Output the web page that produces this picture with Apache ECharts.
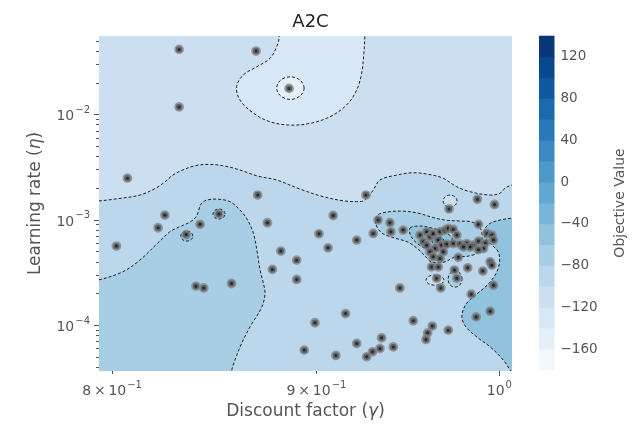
<!DOCTYPE html>
<html>
<head>
<meta charset="utf-8">
<script src="https://cdn.jsdelivr.net/npm/echarts@6.0.0/dist/echarts.min.js"></script>
<style>
html, body { margin:0; padding:0; background:#ffffff; }
#chart { width:641px; height:436px; }
</style>
</head>
<body>
<div id="chart"></div>
<script>
// ---------------- data ----------------
const chartTitle = 'A2C';
const xAxisLabel = 'Discount factor';
const xAxisSymbol = 'γ';
const yAxisLabel = 'Learning rate';
const yAxisSymbol = 'η';
const colorbarLabel = 'Objective Value';

// sampled trials
const discountFactor = [
  0.8315, 0.8692, 0.8859, 0.8315, 0.8071, 0.8700, 0.9260, 0.8247, 0.8508, 0.8215,
  0.8416, 0.8349, 0.8020, 0.8749, 0.9087, 0.9013, 0.9060, 0.8817, 0.8898, 0.8774,
  0.8898, 0.8396, 0.8434, 0.8570, 0.9211, 0.9299, 0.9325, 0.9389, 0.9394, 0.9461,
  0.9443, 0.9152, 0.8992, 0.9516, 0.9621, 0.9710, 0.9595, 0.9586, 0.9344, 0.9211,
  0.9407, 0.9335, 0.9295, 0.9264, 0.9101, 0.8937, 0.9714, 0.9874, 0.9972, 0.9880,
  0.9839, 0.9867, 0.9947, 0.9966, 0.9819, 0.9905, 0.9645, 0.9668, 0.9744, 0.9758,
  0.9766, 0.9617, 0.9654, 0.9553, 0.9571, 0.9590, 0.9608, 0.9626, 0.9664, 0.9692,
  0.9710, 0.9738, 0.9758, 0.9654, 0.9673, 0.9636, 0.9682, 0.9608, 0.9626, 0.9664,
  0.9701, 0.9738, 0.9776, 0.9814, 0.9852, 0.9880, 0.9919, 0.9928, 0.9957, 0.9966,
  0.9909, 0.9880, 0.9947, 0.9957, 0.9833, 0.9795, 0.9590
];
const learningRate = [
  0.0415, 0.0400, 0.0177, 0.0118, 0.00249, 0.00172, 0.00172, 0.00111, 0.00114, 0.000842,
  0.000907, 0.000725, 0.000564, 0.000939, 0.00110, 0.000738, 0.000543, 0.000506, 0.000415, 0.000339,
  0.000272, 0.000235, 0.000226, 0.000249, 0.000643, 0.000744, 0.000996, 0.000939, 0.000771, 0.000800,
  0.000226, 0.000129, 0.0001056, 0.0001103, 0.0000982, 0.0000899, 0.0000847, 0.0000733, 0.0000760, 0.0000672,
  0.0000623, 0.0000602, 0.0000560, 0.0000502, 0.0000517, 0.0000581, 0.00127, 0.00157, 0.00140, 0.000907,
  0.000197, 0.000120, 0.000136, 0.000240, 0.000351, 0.000327, 0.000279, 0.000226, 0.000334, 0.000279,
  0.000441, 0.000358, 0.000358, 0.000717, 0.000620, 0.000771, 0.000691, 0.000744, 0.000771, 0.000800,
  0.000831, 0.000812, 0.000717, 0.000643, 0.000576, 0.000536, 0.000498, 0.000498, 0.000446, 0.000431,
  0.000589, 0.000596, 0.000589, 0.000596, 0.000576, 0.000629, 0.000602, 0.000744, 0.000717, 0.000643,
  0.000534, 0.000522, 0.000400, 0.000372, 0.000552, 0.000552, 0.000576
];

// axes
const xRange = [0.794, 1.0073];
const yRange = [3.68e-5, 0.0556];
const xMajorTicks = [1.0];
const xMinorTicks = [0.8, 0.9];
const xTickValues = [0.8, 0.9, 1.0];
const xTickMantissa = ['8\u2009×\u200910', '9\u2009×\u200910', '10'];
const xTickExponent = ['−1', '−1', '0'];
const yTickValues = [1e-4, 1e-3, 1e-2];
const yTickMantissa = ['10', '10', '10'];
const yTickExponent = ['−4', '−3', '−2'];
const yMinorTicks = [
  4e-5, 5e-5, 6e-5, 7e-5, 8e-5, 9e-5,
  2e-4, 3e-4, 4e-4, 5e-4, 6e-4, 7e-4, 8e-4, 9e-4,
  2e-3, 3e-3, 4e-3, 5e-3, 6e-3, 7e-3, 8e-3, 9e-3,
  2e-2, 3e-2, 4e-2, 5e-2
];

// colour levels of the objective value
const objectiveLevels = [-180, -160, -140, -120, -100, -80, -60, -40, -20, 0, 20, 40, 60, 80, 100, 120, 140];
const colorbarTicks = [-160, -120, -80, -40, 0, 40, 80, 120];

// filled contour regions, vertices as [discount factor, learning rate]
const regionBase = [[0.78, 0.09], [1.02, 0.09], [1.02, 0.00002], [0.78, 0.00002]];
const regionTopLobe = [[0.8809,0.0788],[0.8809,0.0547],[0.8796,0.0440],[0.8762,0.0341],[0.8696,0.0284],[0.8628,0.0237],[0.8595,0.0183],[0.8612,0.0137],[0.8679,0.0103],[0.8762,0.00854],[0.8864,0.00794],[0.8966,0.00824],[0.9070,0.00952],[0.9157,0.0123],[0.9211,0.0171],[0.9237,0.0246],[0.9249,0.0381],[0.9254,0.0547],[0.9254,0.0788]];
const regionTopRing = [[0.8936,0.0178],[0.8915,0.0212],[0.8866,0.0228],[0.8816,0.0212],[0.8796,0.0178],[0.8816,0.0150],[0.8866,0.0139],[0.8915,0.0150]];
const regionMiddle = [[0.7875,0.00149],[0.7935,0.00151],[0.8012,0.001575],[0.8129,0.00172],[0.8204,0.00200],[0.8247,0.00229],[0.8285,0.00266],[0.8332,0.00297],[0.8396,0.00328],[0.8464,0.00336],[0.8538,0.00324],[0.8612,0.00297],[0.8702,0.00260],[0.8796,0.00239],[0.8915,0.00196],[0.9035,0.00166],[0.9148,0.00151],[0.9211,0.00149],[0.9244,0.00151],[0.9270,0.00165],[0.9299,0.00192],[0.9335,0.00239],[0.9425,0.00266],[0.9516,0.00280],[0.9608,0.00269],[0.9682,0.00248],[0.9758,0.00206],[0.9833,0.00185],[0.9947,0.00172],[1.0004,0.00179],[1.0033,0.00200],[1.0073,0.00214],[1.0148,0.00224],[1.0148,0.0000242],[0.7875,0.0000242]];
const regionUpperRing = [[0.9759,0.00151],[0.9748,0.00165],[0.9720,0.00172],[0.9692,0.00165],[0.9681,0.00151],[0.9692,0.00138],[0.9720,0.00132],[0.9748,0.00138]];
const regionLowerLeft = [[0.7875,0.000262],[0.7935,0.000268],[0.8050,0.000322],[0.8129,0.000415],[0.8208,0.000589],[0.8271,0.000771],[0.8311,0.000849],[0.8337,0.000893],[0.8367,0.000953],[0.8396,0.00106],[0.8410,0.00124],[0.8420,0.00141],[0.8448,0.00154],[0.8505,0.00157],[0.8562,0.00149],[0.8603,0.00129],[0.8645,0.00103],[0.8679,0.000744],[0.8696,0.000517],[0.8712,0.000334],[0.8729,0.000249],[0.8737,0.000201],[0.8721,0.000149],[0.8662,0.0000967],[0.8620,0.0000672],[0.8587,0.0000467],[0.8570,0.0000367],[0.8557,0.0000242],[0.7875,0.0000242]];
const regionLeftRingA = [[0.8381,0.000702],[0.8373,0.000757],[0.8352,0.000783],[0.8331,0.000757],[0.8323,0.000702],[0.8331,0.00065],[0.8352,0.000629],[0.8373,0.00065]];
const regionLeftRingB = [[0.8538,0.00114],[0.8529,0.00123],[0.8508,0.00127],[0.8488,0.00123],[0.8479,0.00114],[0.8488,0.00105],[0.8508,0.00102],[0.8529,0.00105]];
const regionRight = [[1.0148,0.00106],[1.0073,0.00104],[1.0004,0.000996],[0.9947,0.000927],[0.9913,0.00080],[0.9919,0.000672],[0.9957,0.000576],[0.9991,0.000506],[1.0002,0.000415],[0.9985,0.000320],[0.9936,0.000246],[0.9871,0.000198],[0.9810,0.000159],[0.9786,0.000120],[0.9810,0.0000961],[0.9879,0.0000755],[0.9947,0.0000623],[1.0023,0.0000467],[1.0066,0.0000367],[1.0120,0.0000270],[1.0148,0.0000242]];
const regionCluster = [[0.9313,0.000913],[0.9324,0.00111],[0.9378,0.00119],[0.9459,0.00121],[0.9542,0.00116],[0.9619,0.00106],[0.9692,0.000996],[0.9776,0.000974],[0.9844,0.000953],[0.9890,0.000836],[0.9901,0.000672],[0.9879,0.000495],[0.9822,0.000453],[0.9748,0.000444],[0.9686,0.000397],[0.9619,0.000397],[0.9581,0.000453],[0.9542,0.000528],[0.9487,0.000615],[0.9416,0.000672],[0.9346,0.000749]];
const regionClusterCore = [[0.9498,0.000836],[0.9553,0.000874],[0.9619,0.000836],[0.9686,0.000766],[0.9731,0.000672],[0.9714,0.000564],[0.9664,0.000517],[0.9597,0.000528],[0.9542,0.000589],[0.9503,0.000702]];
const regionClusterPeak = [[0.9686,0.000629],[0.9675,0.000672],[0.9653,0.000686],[0.9630,0.000672],[0.9619,0.000629],[0.9630,0.000589],[0.9653,0.000576],[0.9675,0.000589]];
const regionLowLoopA = [[0.9686,0.000268],[0.9672,0.000290],[0.9636,0.000299],[0.9600,0.000290],[0.9586,0.000268],[0.9600,0.000248],[0.9636,0.000240],[0.9672,0.000248]];
const regionLowLoopB = [[0.9787,0.000274],[0.9776,0.000311],[0.9748,0.000327],[0.9720,0.000311],[0.9709,0.000274],[0.9720,0.000242],[0.9748,0.000230],[0.9776,0.000242]];

// band index into objectiveLevels for each region (drawn in this order)
const contourRegions = [
  { band: 3, line: false, path: regionBase },
  { band: 2, line: true, path: regionTopLobe },
  { band: 1, line: true, path: regionTopRing },
  { band: 4, line: true, path: regionMiddle },
  { band: 3, line: true, path: regionUpperRing },
  { band: 5, line: true, path: regionLowerLeft },
  { band: 6, line: true, path: regionLeftRingA },
  { band: 6, line: true, path: regionLeftRingB },
  { band: 6, line: true, path: regionRight },
  { band: 5, line: true, path: regionCluster },
  { band: 6, line: true, path: regionClusterCore },
  { band: 7, line: true, path: regionClusterPeak },
  { band: 3, line: true, path: regionLowLoopA },
  { band: 5, line: true, path: regionLowLoopB }
];

// ---------------- colours (matplotlib "Blues") ----------------
const bluesAnchors = ['#f7fbff','#deebf7','#c6dbef','#9ecae1','#6baed6','#4292c6','#2171b5','#08519c','#08306b'];
function hexToRgb(h) { return [1,3,5].map(i => parseInt(h.substr(i, 2), 16)); }
function blues(t) {
  const s = Math.max(0, Math.min(1, t)) * (bluesAnchors.length - 1);
  const i = Math.min(bluesAnchors.length - 2, Math.floor(s));
  const f = s - i;
  const a = hexToRgb(bluesAnchors[i]), b = hexToRgb(bluesAnchors[i + 1]);
  const c = a.map((v, k) => Math.round(v + (b[k] - v) * f));
  return 'rgb(' + c.join(',') + ')';
}
const nBands = objectiveLevels.length - 1;
const bandColors = objectiveLevels.slice(0, -1).map((_, i) => blues((i + 0.5) / nBands));

// ---------------- chart ----------------
const tickGrey = '#555555';
const font = 'DejaVu Sans';

function closeIndex(arr, v) {
  return arr.findIndex(t => Math.abs(t - v) <= Math.abs(t) * 1e-6);
}
const supRich = {
  m: { fontSize: 14, color: tickGrey, fontFamily: font, padding: [4, 0, 0, 0], verticalAlign: 'top' },
  e: { fontSize: 10, color: tickGrey, fontFamily: font, verticalAlign: 'top', padding: [0, 0, 0, 1] }
};

const chart = echarts.init(document.getElementById('chart'), null, { renderer: 'canvas' });

const option = {
  animation: false,
  backgroundColor: '#ffffff',
  textStyle: { fontFamily: font },
  title: {
    text: chartTitle,
    left: 305.5,
    top: 8,
    textAlign: 'center',
    textStyle: { fontSize: 18, fontWeight: 'normal', color: '#222222', fontFamily: font }
  },
  grid: [
    { left: 99, top: 36, width: 413, height: 335 },
    { left: 539, top: 36, width: 15.5, height: 334 }
  ],
  xAxis: [
    {
      gridIndex: 0, type: 'log', logBase: 10, min: xRange[0], max: xRange[1], position: 'bottom',
      axisLine: { show: false }, splitLine: { show: false },
      axisTick: { show: true, customValues: xMajorTicks, length: 5, lineStyle: { color: tickGrey, width: 1 } },
      axisLabel: {
        show: true, customValues: xTickValues, margin: 9,
        formatter: v => { const i = closeIndex(xTickValues, v); return i < 0 ? '' : '{m|' + xTickMantissa[i] + '}{e|' + xTickExponent[i] + '}'; },
        rich: supRich
      },
      name: xAxisLabel + ' ({i|' + xAxisSymbol + '})',
      nameLocation: 'middle', nameGap: 31,
      nameTextStyle: { fontSize: 17, color: tickGrey, fontFamily: font,
        rich: { i: { fontSize: 17, color: tickGrey, fontStyle: 'italic', fontFamily: font } } }
    },
    {
      gridIndex: 0, type: 'log', logBase: 10, min: xRange[0], max: xRange[1], position: 'bottom',
      axisLine: { show: false }, splitLine: { show: false }, axisLabel: { show: false },
      axisTick: { show: true, customValues: xMinorTicks, length: 3, lineStyle: { color: tickGrey, width: 1 } }
    },
    { gridIndex: 1, type: 'value', min: 0, max: 1, show: false }
  ],
  yAxis: [
    {
      gridIndex: 0, type: 'log', logBase: 10, min: yRange[0], max: yRange[1], position: 'left',
      axisLine: { show: false }, splitLine: { show: false },
      axisTick: { show: true, customValues: yTickValues, length: 5, lineStyle: { color: tickGrey, width: 1 } },
      axisLabel: {
        show: true, customValues: yTickValues, margin: 9,
        formatter: v => { const i = closeIndex(yTickValues, v); return i < 0 ? '' : '{m|' + yTickMantissa[i] + '}{e|' + yTickExponent[i] + '}'; },
        rich: supRich
      },
      name: yAxisLabel + ' ({i|' + yAxisSymbol + '})',
      nameLocation: 'middle', nameGap: 55,
      nameTextStyle: { fontSize: 17, color: tickGrey, fontFamily: font,
        rich: { i: { fontSize: 17, color: tickGrey, fontStyle: 'italic', fontFamily: font } } }
    },
    {
      gridIndex: 0, type: 'log', logBase: 10, min: yRange[0], max: yRange[1], position: 'left',
      axisLine: { show: false }, splitLine: { show: false }, axisLabel: { show: false },
      axisTick: { show: true, customValues: yMinorTicks, length: 3, lineStyle: { color: tickGrey, width: 1 } }
    },
    {
      gridIndex: 1, type: 'value', min: objectiveLevels[0], max: objectiveLevels[objectiveLevels.length - 1],
      position: 'right',
      axisLine: { show: false }, splitLine: { show: false },
      axisTick: { show: true, customValues: colorbarTicks, length: 4, lineStyle: { color: tickGrey, width: 1 } },
      axisLabel: {
        show: true, customValues: colorbarTicks, margin: 6, fontSize: 13.5, color: tickGrey, fontFamily: font,
        formatter: v => String(v).replace('-', '−')
      },
      name: colorbarLabel, nameLocation: 'middle', nameRotate: 90, nameGap: 59,
      nameTextStyle: { fontSize: 14, color: tickGrey, fontFamily: font }
    }
  ],
  series: [
    {
      type: 'custom', name: 'contours', xAxisIndex: 0, yAxisIndex: 0, clip: true, z: 1, silent: true,
      data: contourRegions.map((r, i) => [r.path[0][0], r.path[0][1], i]),
      renderItem: (params, api) => {
        const r = contourRegions[params.dataIndex];
        const pts = r.path.map(p => api.coord(p));
        return {
          type: 'polygon',
          shape: { points: pts, smooth: 0.35 },
          style: {
            fill: bandColors[r.band],
            stroke: r.line ? '#1e1e1e' : null,
            lineWidth: r.line ? 1 : 0,
            lineDash: r.line ? [3, 2] : null
          }
        };
      }
    },
    {
      type: 'scatter', name: 'trials', xAxisIndex: 0, yAxisIndex: 0, z: 3, clip: true, silent: true,
      symbol: 'circle', symbolSize: 6.4,
      itemStyle: { color: '#000000', borderColor: 'rgba(125,125,125,0.88)', borderWidth: 3.4 },
      data: discountFactor.map((g, i) => [g, learningRate[i]])
    },
    {
      type: 'custom', name: 'colorbar', xAxisIndex: 2, yAxisIndex: 2, silent: true, z: 1,
      data: bandColors.map((c, i) => [0, objectiveLevels[i], i]),
      renderItem: (params, api) => {
        const i = api.value(2);
        const p0 = api.coord([0, objectiveLevels[i]]);
        const p1 = api.coord([1, objectiveLevels[i + 1]]);
        return {
          type: 'rect',
          shape: { x: p0[0], y: p1[1] - 0.3, width: p1[0] - p0[0], height: p0[1] - p1[1] + 0.6 },
          style: { fill: bandColors[i] }
        };
      }
    }
  ]
};
chart.setOption(option);
</script>
</body>
</html>
